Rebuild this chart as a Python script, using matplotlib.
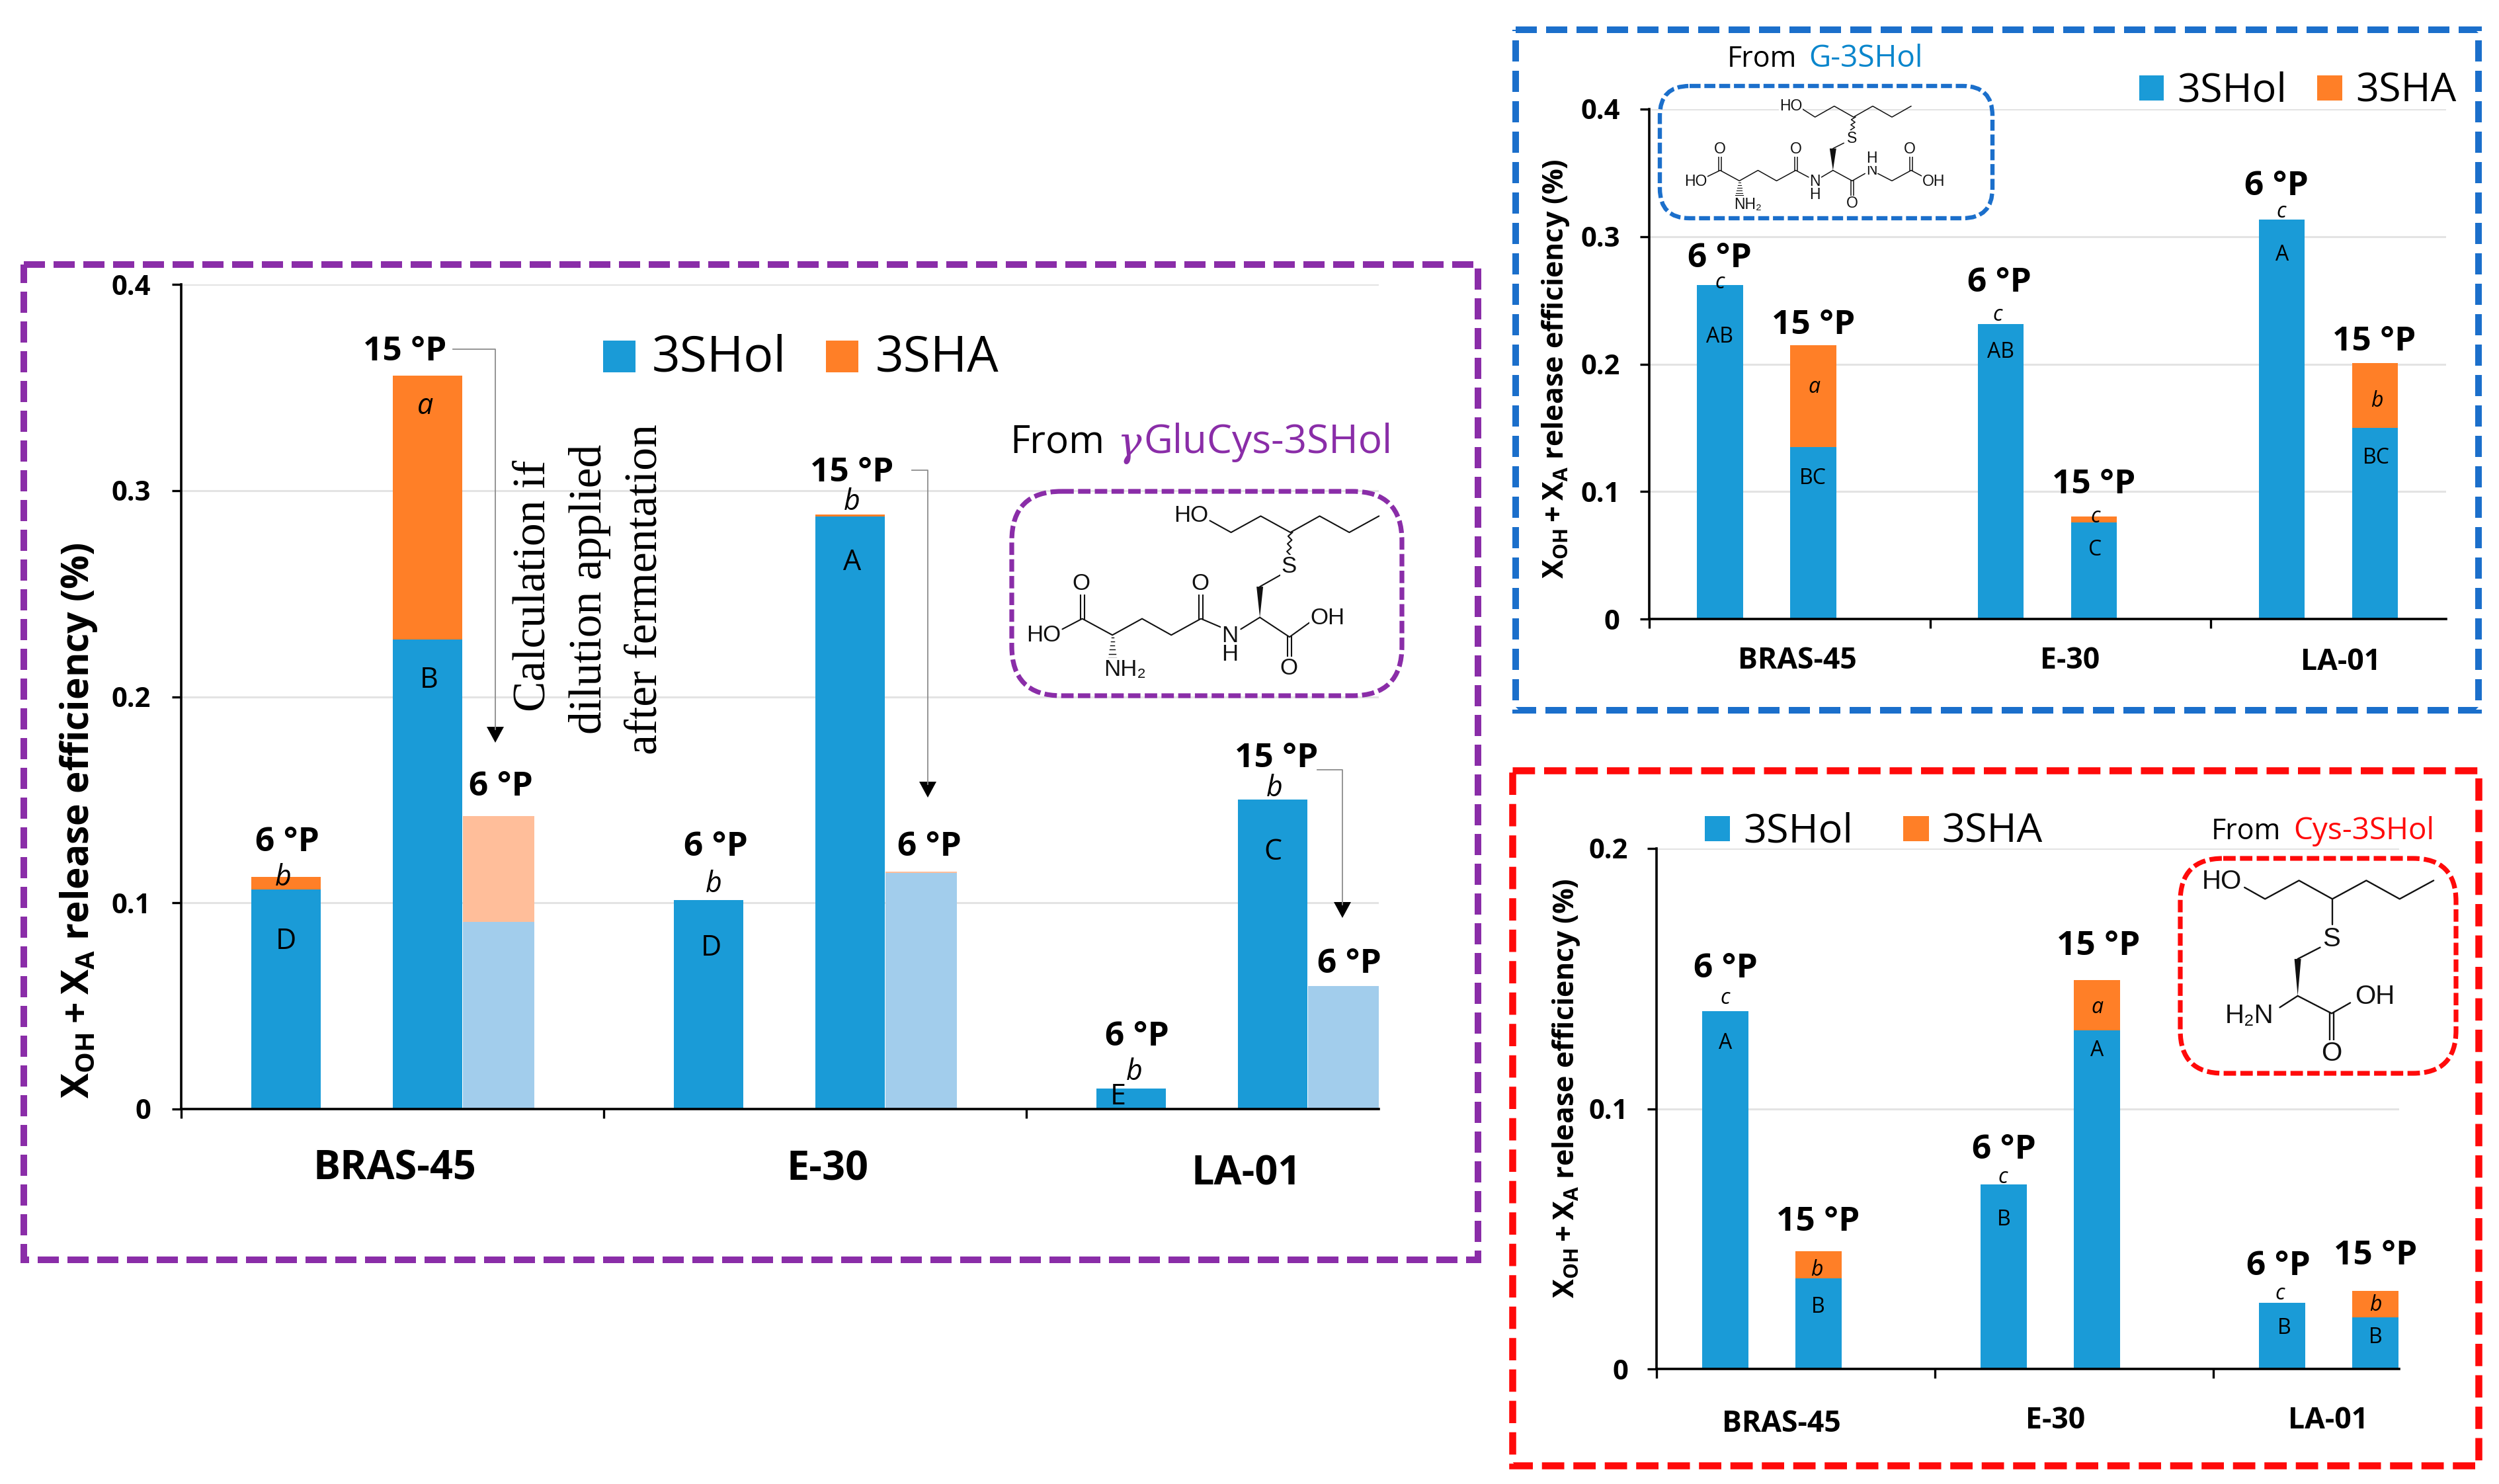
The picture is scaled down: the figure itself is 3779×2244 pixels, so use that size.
import matplotlib
matplotlib.use("Agg")
import matplotlib.pyplot as plt
from matplotlib.patches import FancyBboxPatch, Rectangle, Polygon
import numpy as np

plt.rcParams['font.family'] = ['Open Sans', 'DejaVu Sans']
plt.rcParams['mathtext.fontset'] = 'custom'
plt.rcParams['mathtext.bf'] = 'Open Sans:bold'
plt.rcParams['mathtext.rm'] = 'Open Sans:bold'

CATEGORIES = ['BRAS-45', 'E-30', 'LA-01']
SHOL_LABEL, SHA_LABEL = '3SHol', '3SHA'

# purple panel: from gamma-GluCys-3SHol
P_6_HOL = [0.1065, 0.1014, 0.0098]
P_6_SHA = [0.0060, 0.0, 0.0]
P_15_HOL = [0.2278, 0.2875, 0.1500]
P_15_SHA = [0.1278, 0.0010, 0.0]
P_DIL_HOL = [0.0909, 0.1145, 0.0597]
P_DIL_SHA = [0.0511, 0.0008, 0.0]
P_TICKS = [0, 0.1, 0.2, 0.3, 0.4]

# blue panel: from G-3SHol
B_6_HOL = [0.2618, 0.2314, 0.3136]
B_6_SHA = [0.0, 0.0, 0.0]
B_15_HOL = [0.1350, 0.0757, 0.1500]
B_15_SHA = [0.0800, 0.0047, 0.0507]
B_TICKS = [0, 0.1, 0.2, 0.3, 0.4]

# red panel: from Cys-3SHol
R_6_HOL = [0.1376, 0.0710, 0.0253]
R_6_SHA = [0.0, 0.0, 0.0]
R_15_HOL = [0.0349, 0.1300, 0.0198]
R_15_SHA = [0.0103, 0.0195, 0.0103]
R_TICKS = [0, 0.1, 0.2]

BLUE, ORANGE = '#1A9BD7', '#FF7F27'
LBLUE, LORANGE = '#A2CDEC', '#FFBE9A'
PURPLE, FBLUE, RED = '#8A2DA8', '#1B6FCB', '#FF0A0A'
TBLUE = '#0A86CC'

W, H = 3780, 2244
fig = plt.figure(figsize=(W / 100, H / 100), dpi=100, facecolor='white')


def make_axes(left, right, top, bottom, ymax, ticks, xmax, tickfs, pad):
    ax = fig.add_axes([left / W, 1 - bottom / H, (right - left) / W, (bottom - top) / H])
    ax.set_xlim(0, xmax)
    ax.set_ylim(0, ymax)
    ax.set_axisbelow(True)
    ax.grid(axis='y', color='#E3E3E3', lw=2.2)
    for s in ('top', 'right'):
        ax.spines[s].set_visible(False)
    for s in ('left', 'bottom'):
        ax.spines[s].set_linewidth(2.6)
    ax.set_xticks([0, 1, 2])
    ax.set_xticklabels([])
    ax.set_yticks(ticks)
    ax.set_yticklabels([('0' if t == 0 else f'{t:.1f}') for t in ticks],
                       fontsize=tickfs, fontweight='bold')
    ax.tick_params(axis='both', length=10, width=2.4, pad=pad)
    return ax


def stacked(ax, xoff, hol, sha, width, c1=BLUE, c2=ORANGE):
    x = np.arange(3) + xoff
    ax.bar(x, hol, width, color=c1, linewidth=0)
    ax.bar(x, sha, width, bottom=hol, color=c2, linewidth=0)


axP = make_axes(274, 2085, 430, 1677, 0.4, P_TICKS, 2.834, 30, 23)
stacked(axP, 0.248, P_6_HOL, P_6_SHA, 0.165)
stacked(axP, 0.583, P_15_HOL, P_15_SHA, 0.165)
stacked(axP, 0.751, P_DIL_HOL, P_DIL_SHA, 0.170, LBLUE, LORANGE)

axB = make_axes(2494, 3699, 165, 936, 0.4, B_TICKS, 2.837, 30, 22)
stacked(axB, 0.252, B_6_HOL, B_6_SHA, 0.163)
stacked(axB, 0.584, B_15_HOL, B_15_SHA, 0.163)

axR = make_axes(2505, 3628, 1283, 2070, 0.2, R_TICKS, 2.668, 30, 21)
stacked(axR, 0.2465, R_6_HOL, R_6_SHA, 0.166)
stacked(axR, 0.582, R_15_HOL, R_15_SHA, 0.166)

# overlay in reference pixel coordinates for annotations and decorations
ov = fig.add_axes([0, 0, 1, 1], facecolor='none')
ov.set_xlim(0, W)
ov.set_ylim(H, 0)
ov.axis('off')


# zoom-crop coordinate helpers
def Z1(x, y): return (x / 1.3067, 380 + y / 1.0116)
def Z2(x, y): return (1200 + x / 1.4933, 380 + y / 1.0116)
def ZB(x, y): return (2260 + x / 1.0316, 20 + y / 1.452)
def ZR(x, y): return (2260 + x / 1.0316, 1150 + y / 1.433)


def t(pos, s, fs, ha='center', va='center', shift=4, **kw):
    return ov.text(pos[0], pos[1] + shift, s, fontsize=fs, ha=ha, va=va, **kw)


def frame(l, r, tp, b, color, lw=7.2, dash=(3.2, 1.3)):
    ov.add_patch(Rectangle((l, tp), r - l, b - tp, fill=False, edgecolor=color, lw=lw,
                           linestyle=(0, dash), capstyle='butt'))


def rbox(l, r, tp, b, color, rad=75, lw=5.2):
    ov.add_patch(FancyBboxPatch((l, tp), r - l, b - tp,
                                boxstyle=f'round,pad=0,rounding_size={rad}',
                                fill=False, edgecolor=color, lw=lw,
                                linestyle=(0, (2.6, 0.9))))


def arrow(x0, y0, x1, y1):
    ov.plot([x0, x1, x1], [y0, y0, y1 - 20], color='#8C8C8C', lw=1.3)
    ov.add_patch(Polygon([(x1 - 13, y1 - 24), (x1 + 13, y1 - 24), (x1, y1)], closed=True,
                         facecolor='black', edgecolor='none'))


def mol(T, chains, doubles, wedge, hash_, wavy, labels, fs, lw):
    for ch in chains:
        p = [T(*q) for q in ch]
        ov.plot([a[0] for a in p], [a[1] for a in p], color='#111111', lw=lw, solid_capstyle='round')
    for (a, b, off) in doubles:
        pa, pb = T(*a), T(*b)
        for d in (-off, off):
            ov.plot([pa[0] + d, pb[0] + d], [pa[1], pb[1]], color='#111111', lw=lw)
    if wedge:
        a, b = T(*wedge[0]), T(*wedge[1])
        ov.add_patch(Polygon([(a[0] - 5, a[1]), (a[0] + 5, a[1]), b], closed=True,
                             facecolor='#111111', edgecolor='none'))
    if hash_:
        a, b = T(*hash_[0]), T(*hash_[1])
        for f in np.linspace(0.1, 1, 6):
            xx, yy = a[0] + (b[0] - a[0]) * f, a[1] + (b[1] - a[1]) * f
            ov.plot([xx - 1 - 5 * f, xx + 1 + 5 * f], [yy, yy], color='#111111', lw=lw * 0.7)
    if wavy:
        a, b = T(*wavy[0]), T(*wavy[1])
        n = 7
        ys = np.linspace(a[1], b[1], n)
        xs = np.linspace(a[0], b[0], n) + np.array([(-1) ** i * 3 for i in range(n)])
        ov.plot(xs, ys, color='#111111', lw=lw)
    for pos, s in labels:
        t(T(*pos), s, fs, shift=0, family=['Liberation Sans', 'DejaVu Sans'], color='#111111',
          bbox=dict(facecolor='white', edgecolor='none', pad=0.5))


# ---------- purple panel ----------
frame(36, 2235, 400, 1905, PURPLE)
YLAB = r'$\mathbf{X_{OH}+X_{A}}$ release efficiency (%)'
t((119, 1241), YLAB, 41, shift=0, rotation=90, fontweight='bold')
for pos, s in [(Z1(568, 900), '6 °P'), (Z1(800, 150), '15 °P'), (Z1(990, 815), '6 °P'),
               (Z1(1415, 907), '6 °P'), (Z2(132, 335), '15 °P'), (Z2(307, 907), '6 °P'),
               (Z2(775, 1198), '6 °P'), (Z2(1090, 772), '15 °P'), (Z2(1255, 1086), '6 °P')]:
    t(pos, s, 37, fontweight='bold')
for pos, s in [(Z1(560, 955), 'b'), (Z1(840, 233), 'a'), (Z1(1410, 965), 'b'), (Z2(132, 380), 'b'),
               (Z2(770, 1252), 'b'), (Z2(1086, 818), 'b')]:
    t(pos, s, 31, style='italic')
for pos, s in [(Z1(565, 1052), 'D'), (Z1(847, 652), 'B'), (Z1(1405, 1062), 'D'), (Z2(133, 472), 'A'),
               (Z2(732, 1290), 'E'), (Z2(1082, 915), 'C')]:
    t(pos, s, 31)
for pos, s in zip([(597, 1764), (1251, 1765), (1885, 1772)], CATEGORIES):
    t(pos, s, 44, fontweight='bold')
ov.add_patch(Rectangle((912, 515), 49, 48, facecolor=BLUE, edgecolor='none'))
t((986, 538), SHOL_LABEL, 54, ha='left')
ov.add_patch(Rectangle((1249, 515), 49, 48, facecolor=ORANGE, edgecolor='none'))
t((1324, 538), SHA_LABEL, 54, ha='left')
t((1527, 665), 'From', 42, ha='left')
t((1689, 668), 'γ', 44, ha='left', family='DejaVu Serif', style='italic', color=PURPLE)
t((1729, 665), 'GluCys-3SHol', 43.5, ha='left', color=PURPLE)
for x, y, s in [(807, 886, 'Calculation if'), (892, 891, 'dilution applied'), (976, 891, 'after fermentation')]:
    t((x, y), s, 50, shift=0, rotation=90, family='Liberation Serif')
arrow(685, 528, 749, 1123)
arrow(1379, 711, 1403, 1206)
arrow(1992, 1164, 2030, 1388)
rbox(1530, 2120, 743, 1052, PURPLE)
mol(Z2,
    [[(940, 412), (988, 430), (1055, 405), (1122, 430), (1188, 405), (1255, 430), (1322, 405)],
     [(1100, 495), (1053, 513)],
     [(1053, 560), (1120, 590), (1165, 568)],
     [(1053, 560), (1010, 578)],
     [(965, 575), (920, 562), (853, 587), (787, 562), (720, 587), (652, 562), (607, 578)]],
    [((1120, 590), (1120, 622), 3), ((920, 562), (920, 525), 3), ((652, 562), (652, 525), 3)],
    ((1053, 513), (1053, 560)), ((720, 587), (720, 622)), ((1122, 430), (1118, 465)),
    [((898, 404), 'HO'), ((1118, 482), 'S'), ((1205, 561), 'OH'), ((1118, 638), 'O'),
     ((985, 588), 'N'), ((985, 617), 'H'), ((918, 508), 'O'), ((650, 508), 'O'),
     ((565, 587), 'HO'), ((748, 640), 'NH₂')], 25, 1.5)

# ---------- blue panel ----------
frame(2292, 3748, 45, 1074, FBLUE, lw=7.2, dash=(3.2, 1.4))
t(ZB(95, 780), YLAB, 31, shift=0, rotation=90, fontweight='bold')
for pos, s in [((351, 533), '6 °P'), ((497, 680), '15 °P'), ((788, 587), '6 °P'), ((935, 1030), '15 °P'),
               ((1220, 375), '6 °P'), ((1372, 716), '15 °P')]:
    t(ZB(*pos), s, 37, fontweight='bold')
for pos, s in [((351, 586), 'c'), ((499, 815), 'a'), ((785, 657), 'c'), ((937, 1100), 'c'),
               ((1227, 431), 'c'), ((1376, 846), 'b')]:
    t(ZB(*pos), s, 23, style='italic')
for pos, s in [((351, 705), 'AB'), ((497, 1015), 'BC'), ((790, 738), 'AB'), ((937, 1172), 'C'),
               ((1229, 525), 'A'), ((1376, 970), 'BC')]:
    t(ZB(*pos), s, 23)
for pos, s in zip([(472, 1417), (898, 1417), (1320, 1420)], CATEGORIES):
    t(ZB(*pos), s, 32, fontweight='bold')
x0, y0 = ZB(1006, 137); x1, y1 = ZB(1044, 192)
ov.add_patch(Rectangle((x0, y0), x1 - x0, y1 - y0, facecolor=BLUE, edgecolor='none'))
t(ZB(1065, 165), SHOL_LABEL, 44, ha='left')
x0, y0 = ZB(1283, 137); x1, y1 = ZB(1322, 192)
ov.add_patch(Rectangle((x0, y0), x1 - x0, y1 - y0, facecolor=ORANGE, edgecolor='none'))
t(ZB(1343, 165), SHA_LABEL, 44, ha='left')
t(ZB(363, 95), 'From', 31, ha='left')
t(ZB(490, 95), 'G-3SHol', 33, ha='left', color=TBLUE)
rbox(2510, 3013, 130, 330, FBLUE, rad=45, lw=4.6)
mol(ZB,
    [[(480, 210), (500, 228), (530, 204), (560, 228), (590, 204), (620, 228), (650, 204)],
     [(545, 285), (528, 297)],
     [(528, 345), (510, 360)],
     [(490, 360), (470, 345), (440, 368), (411, 345), (382, 368), (352, 345), (330, 360)],
     [(528, 345), (558, 368), (578, 352)],
     [(598, 352), (620, 368), (650, 345), (670, 360)]],
    [((470, 345), (470, 312), 2), ((352, 345), (352, 312), 2), ((558, 368), (558, 405), 2),
     ((650, 345), (650, 312), 2)],
    ((528, 297), (528, 345)), ((382, 368), (382, 400)), ((560, 228), (558, 262)),
    [((462, 204), 'HO'), ((558, 275), 'S'), ((500, 370), 'N'), ((500, 398), 'H'), ((470, 298), 'O'),
     ((352, 298), 'O'), ((314, 370), 'HO'), ((395, 420), 'NH₂'), ((558, 418), 'O'), ((588, 345), 'N'),
     ((588, 318), 'H'), ((648, 298), 'O'), ((685, 370), 'OH')], 16.5, 1.1)

# ---------- red panel ----------
frame(2287, 3748, 1165, 2216, RED, lw=7.6, dash=(3.2, 1.3))
t(ZR(112, 710), YLAB, 31, shift=0, rotation=90, fontweight='bold')
for pos, s in [((360, 445), '6 °P'), ((505, 995), '15 °P'), ((795, 838), '6 °P'), ((942, 397), '15 °P'),
               ((1223, 1090), '6 °P'), ((1374, 1067), '15 °P')]:
    t(ZR(*pos), s, 37, fontweight='bold')
for pos, s in [((360, 510), 'c'), ((503, 1098), 'b'), ((793, 898), 'c'), ((940, 530), 'a'),
               ((1225, 1150), 'c'), ((1374, 1175), 'b')]:
    t(ZR(*pos), s, 23, style='italic')
for pos, s in [((360, 607), 'A'), ((505, 1178), 'B'), ((795, 990), 'B'), ((940, 622), 'A'),
               ((1232, 1225), 'B'), ((1374, 1245), 'B')]:
    t(ZR(*pos), s, 23)
for pos, s in zip([(448, 1432), (875, 1425), (1300, 1425)], CATEGORIES):
    t(ZR(*pos), s, 32, fontweight='bold')
x0, y0 = ZR(328, 120); x1, y1 = ZR(367, 175)
ov.add_patch(Rectangle((x0, y0), x1 - x0, y1 - y0, facecolor=BLUE, edgecolor='none'))
t(ZR(388, 148), SHOL_LABEL, 44, ha='left')
x0, y0 = ZR(638, 120); x1, y1 = ZR(678, 175)
ov.add_patch(Rectangle((x0, y0), x1 - x0, y1 - y0, facecolor=ORANGE, edgecolor='none'))
t(ZR(698, 148), SHA_LABEL, 44, ha='left')
t(ZR(1118, 148), 'From', 31, ha='left')
t(ZR(1246, 148), 'Cys-3SHol', 33, ha='left', color=RED)
rbox(3297, 3714, 1298, 1623, RED, rad=65, lw=5.2)
mol(ZR,
    [[(1170, 275), (1202, 300), (1255, 260), (1307, 300), (1360, 260), (1412, 300), (1465, 260)],
     [(1307, 300), (1307, 355)],
     [(1288, 405), (1253, 430)],
     [(1253, 510), (1225, 535)],
     [(1253, 510), (1306, 548), (1335, 525)]],
    [((1306, 548), (1306, 605), 3)],
    ((1253, 430), (1253, 510)), None, None,
    [((1135, 262), 'HO'), ((1306, 387), 'S'), ((1178, 553), 'H₂N'), ((1373, 512), 'OH'), ((1306, 635), 'O')],
    29, 1.7)

fig.savefig('out.png', dpi=100, facecolor='white')
